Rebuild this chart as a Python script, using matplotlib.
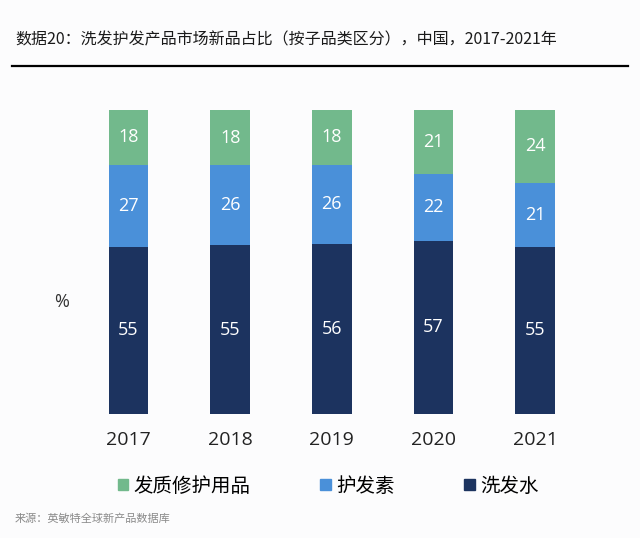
import matplotlib.pyplot as plt
from matplotlib.lines import Line2D
from matplotlib.patches import Patch

years = ["2017", "2018", "2019", "2020", "2021"]
shampoo = [55, 55, 56, 57, 55]      # 洗发水
conditioner = [27, 26, 26, 22, 21]  # 护发素
repair = [18, 18, 18, 21, 24]       # 发质修护用品

c_navy = "#1c335f"
c_blue = "#4a90d9"
c_green = "#72b98c"
cjk = ["Noto Sans CJK SC", "DejaVu Sans"]
num = ["Open Sans", "DejaVu Sans"]

# 100% stacked: scale each year to its total
totals = [a + b + c for a, b, c in zip(shampoo, conditioner, repair)]
s1 = [v / t * 100 for v, t in zip(shampoo, totals)]
s2 = [v / t * 100 for v, t in zip(conditioner, totals)]
s3 = [v / t * 100 for v, t in zip(repair, totals)]

fig = plt.figure(figsize=(6.4, 5.38), dpi=100, facecolor="#fcfcfd")
ax = fig.add_axes([0.1214, 0.2305, 0.794, 0.565])
ax.set_facecolor("#fcfcfd")

x = range(len(years))
w = 0.39
ax.bar(x, s1, w, color=c_navy)
ax.bar(x, s2, w, bottom=s1, color=c_blue)
bottom2 = [a + b for a, b in zip(s1, s2)]
ax.bar(x, s3, w, bottom=bottom2, color=c_green)

for i in x:
    ax.text(i, s1[i] / 2, str(shampoo[i]), ha="center", va="center",
            color="white", fontsize=13, family=num)
    ax.text(i, s1[i] + s2[i] / 2, str(conditioner[i]), ha="center",
            va="center", color="white", fontsize=13, family=num)
    ax.text(i, bottom2[i] + s3[i] / 2, str(repair[i]), ha="center",
            va="center", color="white", fontsize=13, family=num)

ax.set_xlim(-0.5, 4.5)
ax.set_ylim(0, 100)
ax.set_xticks(list(x))
ax.set_xticklabels(years, fontsize=14, family=num, color="#222222")
ax.tick_params(axis="x", length=0, pad=12)
ax.set_yticks([])
for s in ax.spines.values():
    s.set_visible(False)

fig.text(62 / 640, 1 - 302 / 538, "%", fontsize=13, family=num, color="#333333",
         ha="center", va="center")

fig.text(15 / 640, 1 - 40 / 538,
         "数据20：洗发护发产品市场新品占比（按子品类区分），中国，2017-2021年",
         fontsize=11.5, family=cjk, color="#1a1a1a", ha="left", va="center")
fig.add_artist(Line2D([12 / 640, 628 / 640], [1 - 66 / 538, 1 - 66 / 538],
                      color="black", linewidth=1.6, transform=fig.transFigure))

handles = [Patch(color=c_green, label="发质修护用品"),
           Patch(color=c_blue, label="护发素"),
           Patch(color=c_navy, label="洗发水")]
fig.legend(handles=handles, loc="center", bbox_to_anchor=(328 / 640, 1 - 486 / 538),
           ncol=3, frameon=False, prop={"family": cjk, "size": 14},
           handlelength=0.55, handleheight=0.55, handletextpad=0.25,
           columnspacing=3.6)

fig.text(15 / 640, 1 - 519 / 538, "来源：英敏特全球新产品数据库", fontsize=8,
         family=cjk, color="#8a8a8a", ha="left", va="center")

fig.savefig("out.png", dpi=100, facecolor=fig.get_facecolor())
